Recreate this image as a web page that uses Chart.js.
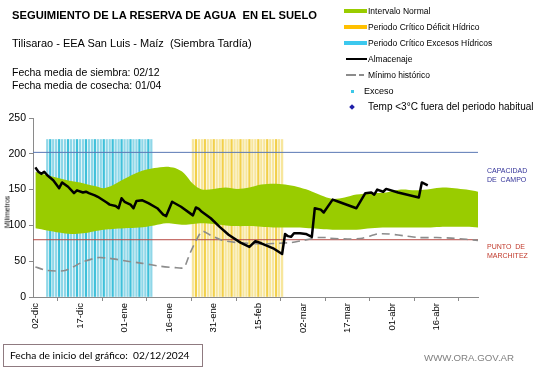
<!DOCTYPE html>
<html lang="es">
<head>
<meta charset="utf-8">
<title>Seguimiento de la reserva de agua en el suelo</title>
<script src="https://cdn.jsdelivr.net/npm/chart.js@4.4.1/dist/chart.umd.min.js"></script>
<style>
  html, body { margin: 0; padding: 0; background: #fff; }
  #page { position: relative; width: 541px; height: 368px; overflow: hidden; font-family: Arial, "Liberation Sans", sans-serif; color: #000; }
  #chart { position: absolute; left: 0; top: 0; }
  .t { position: absolute; white-space: nowrap; line-height: 1; }
  #title { left: 12px; top: 10px; font-size: 11.2px; font-weight: bold; }
  #sub { left: 12px; top: 38px; font-size: 11px; }
  #dates { left: 12px; top: 66px; font-size: 10.5px; line-height: 13px; }
  #ylab { left: 7px; top: 212px; font-size: 7px; transform: translate(-50%, -50%) rotate(-90deg); }
  .side { position: absolute; left: 487px; font-size: 7px; line-height: 9px; white-space: nowrap; }
  #cc { top: 166px; color: #333399; }
  #pm { top: 242px; color: #c0392b; }
  #footbox { position: absolute; left: 3px; top: 344px; width: 200px; height: 23px; border: 1px solid #8f7a80; box-sizing: border-box; }
  #foot { left: 10px; top: 350px; font-family: Lato, "Open Sans", sans-serif; font-size: 10.2px; }
  #web { left: 424px; top: 353px; font-size: 9.7px; color: #808080; }
  .lg { position: absolute; white-space: nowrap; font-size: 8.5px; line-height: 1; }
  .sw { position: absolute; }
</style>
</head>
<body>
<div id="page">
  <canvas id="chart" width="541" height="368"></canvas>
  <div class="t" id="title">SEGUIMIENTO DE LA RESERVA DE AGUA&nbsp; EN EL SUELO</div>
  <div class="t" id="sub">Tilisarao - EEA San Luis - Maíz&nbsp; (Siembra Tardía)</div>
  <div class="t" id="dates">Fecha media de siembra: 02/12<br>Fecha media de cosecha: 01/04</div>
  <div class="t" id="ylab">Milímetros</div>
  <div class="side" id="cc">CAPACIDAD<br>DE&nbsp; CAMPO</div>
  <div class="side" id="pm">PUNTO&nbsp; DE<br>MARCHITEZ</div>
  <div id="footbox"></div>
  <div class="t" id="foot">Fecha de inicio del gráfico:&nbsp; 02/12/2024</div>
  <div class="t" id="web">WWW.ORA.GOV.AR</div>
  <div id="legend"></div>
</div>
<script>
// --- Data ---

// x axis: days counted from 02/12/2024, a tick every 15 days
const tickDays = [0, 15, 30, 45, 60, 75, 90, 105, 120, 135]
const tickLabels = ['02-dic', '17-dic', '01-ene', '16-ene', '31-ene', '15-feb', '02-mar', '17-mar', '01-abr', '16-abr']
const yTicks = [0, 50, 100, 150, 200, 250]

// Intervalo normal (green band)
const bandDays = [0, 4, 8, 12, 16, 20, 23, 26, 30, 35, 40, 44, 47, 50, 53, 56, 60, 64, 68, 72, 76, 80, 84, 88, 92, 96, 100, 104, 108, 113, 118, 123, 128, 133, 137, 141, 145, 149]
const bandUpper = [175, 170, 166, 162, 159, 155, 152, 156, 165, 175, 180, 182, 180, 173, 158, 150, 151, 153, 151, 153, 157, 158, 157, 154, 149, 142, 137, 139, 143, 145, 146, 150, 149, 151, 153, 152, 150, 147]
const bandLower = [96, 93, 90, 88, 89, 92, 94, 95, 96, 97, 100, 103, 102, 101, 102, 103, 102, 100, 99, 99, 98, 97, 97, 97, 96, 95, 94, 94, 94, 96, 97, 97, 97, 97, 98, 98, 98, 97]

// Almacenaje
const storageDays = [0, 1, 2, 3, 4, 6, 8, 9, 11, 13, 14, 16, 17, 18, 20, 21, 24, 25, 27, 28, 29, 30, 32, 33, 34, 36, 38, 41, 43, 44, 46, 49, 53, 54, 55, 56, 59, 62, 65, 69, 72, 74, 76, 80, 83, 84, 85, 86, 87, 89, 91, 93, 94, 96, 97, 100, 102, 108, 111, 113, 114, 115, 117, 118, 122, 129, 130, 131, 132]
const storageMm = [181, 175, 172, 175, 170, 163, 152, 160, 154, 145, 149, 146, 147, 145, 142, 140, 132, 129, 127, 124, 138, 133, 129, 124, 134, 135, 131, 124, 115, 113, 133, 126, 114, 125, 123, 119, 110, 98, 87, 76, 70, 78, 75, 68, 60, 88, 85, 84, 89, 89, 88, 84, 124, 122, 118, 136, 133, 124, 145, 146, 143, 150, 147, 151, 146, 139, 160, 158, 156]

// Mínimo histórico
const minDays = [0, 4, 10, 16, 21, 25, 31, 36, 42, 47, 50, 52, 56, 59, 63, 68, 72, 77, 81, 86, 90, 95, 98, 99, 105, 110, 115, 119, 125, 129, 135, 141, 149]
const minMm = [42, 37, 37, 49, 55, 54, 50, 47, 43, 41, 41, 61, 92, 86, 79, 76, 75, 74, 75, 76, 79, 83, 83, 82, 81, 82, 88, 88, 85, 83, 83, 82, 79]

const fieldCapacity = 202
const wiltingPoint = 80

// Periodos críticos: one stripe per day
const excessDays = [4, 5, 6, 7, 8, 9, 10, 11, 12, 13, 14, 15, 16, 17, 18, 19, 20, 21, 22, 23, 24, 25, 26, 27, 28, 29, 30, 31, 32, 33, 34, 35, 36, 37, 38, 39]
const deficitDays = [53, 54, 55, 56, 57, 58, 59, 60, 61, 62, 63, 64, 65, 66, 67, 68, 69, 70, 71, 72, 73, 74, 75, 76, 77, 78, 79, 80, 81, 82, 83]
const periodTop = 220

// --- Helpers ---

const pts = (xs, ys) => xs.map((x, i) => ({ x: x, y: ys[i] }))
const flat = (xs, v) => xs.map(x => ({ x: x, y: v }))

const AXIS = '#8a8a8a'
const GREEN = '#99cc00'

// --- Legend (HTML, top right) ---

const legendItems = [
  { label: 'Intervalo Normal', kind: 'box', color: GREEN },
  { label: 'Periodo Crítico Déficit Hídrico', kind: 'box', color: '#ffc000' },
  { label: 'Periodo Crítico Excesos Hídricos', kind: 'box', color: '#3cc8ee' },
  { label: 'Almacenaje', kind: 'line', color: '#000' },
  { label: 'Mínimo histórico', kind: 'dash', color: '#8c8c8c' },
  { label: 'Exceso', kind: 'dot', color: '#3cc8e8', size: 9 },
  { label: 'Temp <3°C fuera del periodo habitual', kind: 'diamond', color: '#1f1fa8', size: 10 }
]

function buildLegend() {
  const root = document.getElementById('legend')
  legendItems.forEach((item, i) => {
    const cy = 11 + i * 16
    const sw = []
    if (item.kind === 'box') {
      sw.push({ l: 344, t: cy - 2, w: 23, h: 4, c: item.color })
    } else if (item.kind === 'line') {
      sw.push({ l: 346, t: cy - 1, w: 21, h: 2, c: item.color })
    } else if (item.kind === 'dash') {
      sw.push({ l: 346, t: cy - 1, w: 10, h: 2, c: item.color })
      sw.push({ l: 359, t: cy - 1, w: 5, h: 2, c: item.color })
    } else if (item.kind === 'dot') {
      sw.push({ l: 351, t: cy - 1, w: 3, h: 3, c: item.color })
    } else if (item.kind === 'diamond') {
      sw.push({ l: 350, t: cy - 2, w: 4, h: 4, c: item.color, rot: true })
    }
    sw.forEach(s => {
      const d = document.createElement('div')
      d.className = 'sw'
      d.style.cssText = `left:${s.l}px;top:${s.t}px;width:${s.w}px;height:${s.h}px;background:${s.c};` +
        (s.rot ? 'transform:rotate(45deg);' : '')
      root.appendChild(d)
    })
    const size = item.size || 8.5
    const txt = document.createElement('div')
    txt.className = 'lg'
    txt.textContent = item.label
    txt.style.cssText = `left:${item.kind === 'dot' ? 364 : 368}px;top:${cy - size / 2}px;font-size:${size}px;`
    root.appendChild(txt)
  })
}

// --- Chart ---

// stripes sit behind the green band, alternating two shades
function stripeDataset(days, dark, light) {
  return {
    type: 'bar',
    data: flat(days, periodTop),
    grouped: false,
    barThickness: 1.6,
    borderWidth: 0,
    backgroundColor: ctx => (ctx.dataIndex % 3 === 1 ? dark : light),
    order: 8
  }
}

function renderChart() {
  const el = document.getElementById('chart')
  return new Chart(el, {
    type: 'line',
    data: {
      datasets: [
        stripeDataset(excessDays, '#3fc0da', '#8fd7e8'),
        stripeDataset(deficitDays, '#f2d04a', '#f7e69c'),
        {
          data: pts(bandDays, bandUpper),
          borderWidth: 0,
          backgroundColor: GREEN,
          fill: 3,
          tension: 0.3,
          order: 6
        },
        {
          data: pts(bandDays, bandLower),
          borderWidth: 0,
          fill: false,
          tension: 0.3,
          order: 7
        },
        {
          data: flat([-1, 150], fieldCapacity),
          borderColor: '#5a78b4',
          borderWidth: 1,
          order: 3
        },
        {
          data: flat([-1, 150], wiltingPoint),
          borderColor: '#b84a45',
          borderWidth: 1,
          order: 3
        },
        {
          data: pts(minDays, minMm),
          borderColor: '#8c8c8c',
          borderWidth: 1.6,
          borderDash: [8, 5],
          tension: 0.2,
          order: 2
        },
        {
          data: pts(storageDays, storageMm),
          borderColor: '#000',
          borderWidth: 2.5,
          borderJoinStyle: 'round',
          order: 1
        }
      ]
    },
    options: {
      responsive: false,
      animation: false,
      devicePixelRatio: 1,
      layout: { padding: { left: 0, top: 118, right: 63, bottom: 0 } },
      elements: { point: { radius: 0 } },
      plugins: {
        legend: { display: false },
        tooltip: { enabled: false }
      },
      scales: {
        x: {
          type: 'linear',
          min: -0.8,
          max: 148.9,
          offset: false,
          afterBuildTicks: s => { s.ticks = tickDays.map(v => ({ value: v })) },
          afterFit: s => { s.height = 71 },
          ticks: {
            autoSkip: false,
            minRotation: 90,
            maxRotation: 90,
            padding: 2,
            color: '#000',
            font: { family: 'Arial', size: 9.5 },
            callback: v => tickLabels[tickDays.indexOf(v)]
          },
          grid: { drawOnChartArea: false, tickLength: 4, color: AXIS },
          border: { color: AXIS }
        },
        y: {
          min: 0,
          max: 250,
          afterBuildTicks: s => { s.ticks = yTicks.map(v => ({ value: v })) },
          afterFit: s => { s.width = 33 },
          ticks: {
            padding: 3,
            color: '#000',
            font: { family: 'Arial', size: 10.5 }
          },
          grid: { drawOnChartArea: false, tickLength: 4, color: AXIS },
          border: { color: AXIS }
        }
      }
    }
  })
}

buildLegend()
renderChart()
</script>
</body>
</html>
